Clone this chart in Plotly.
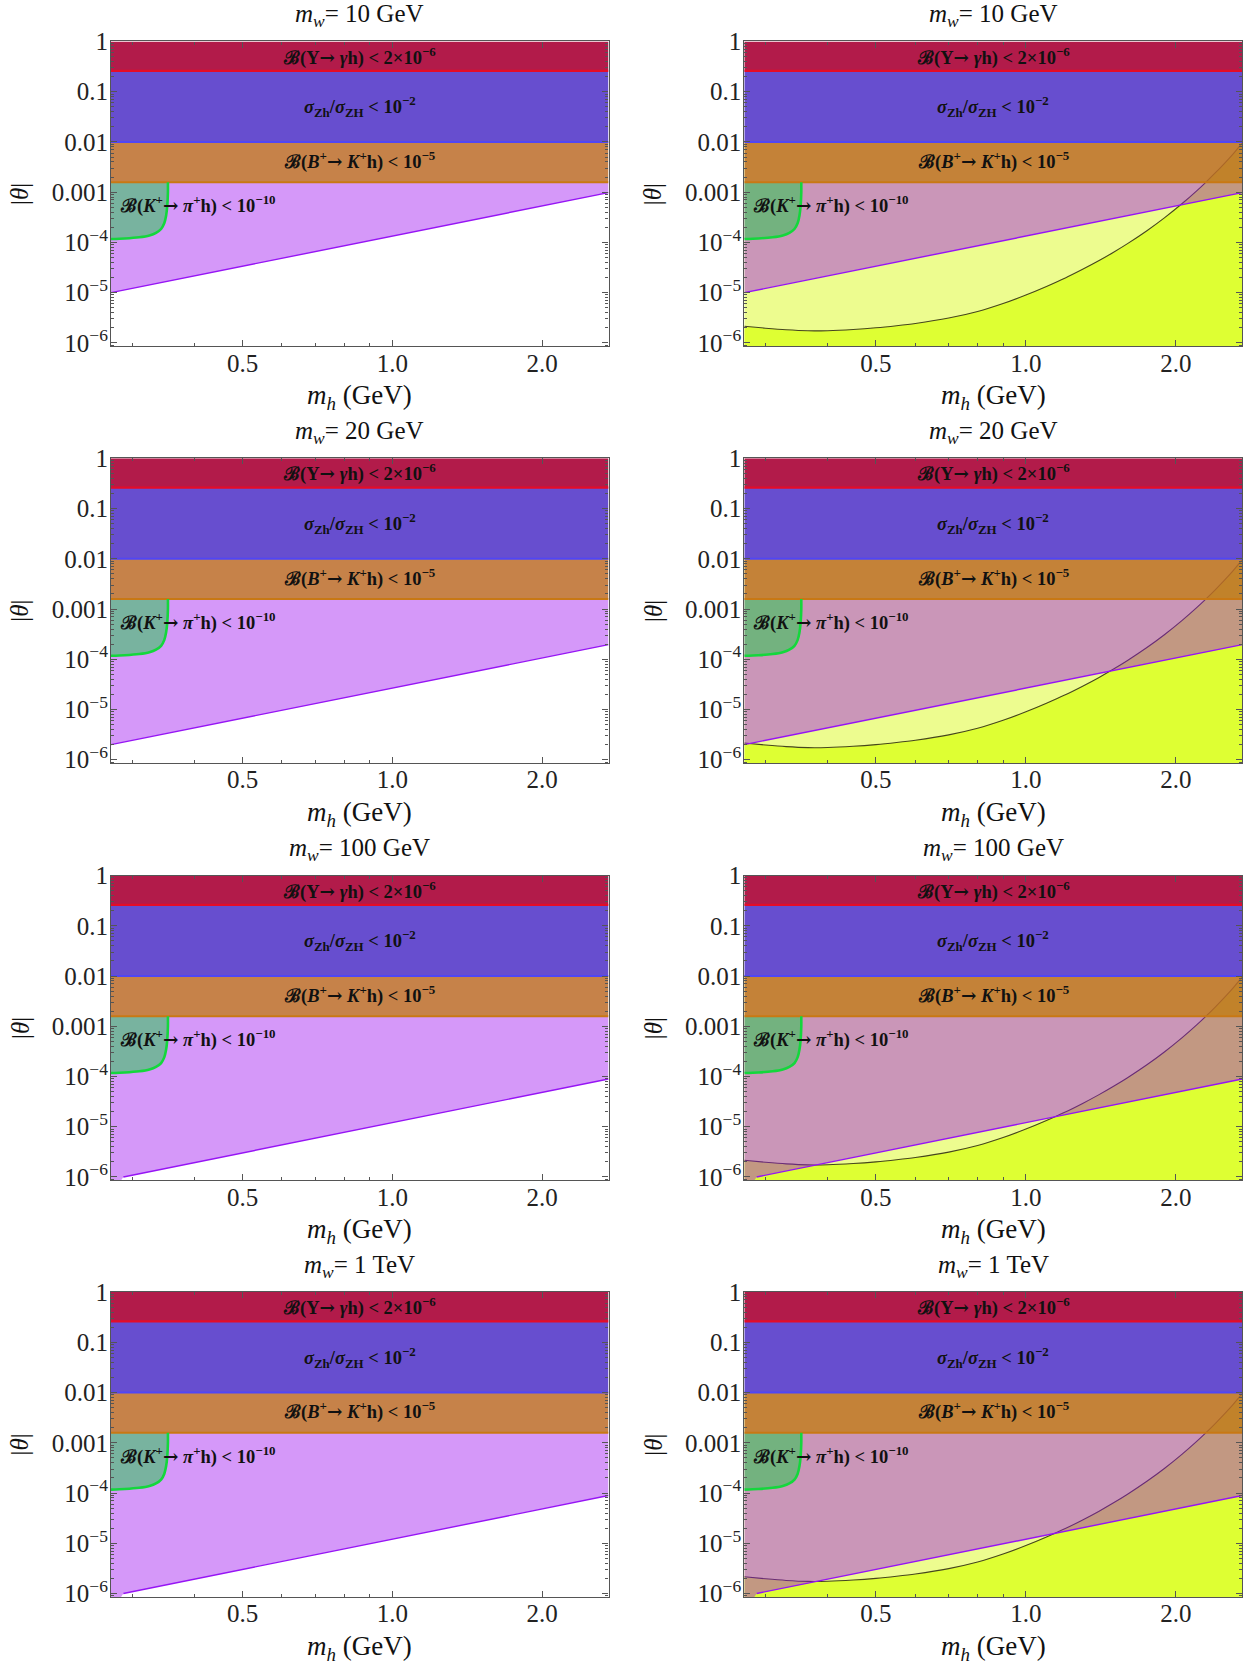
import math
import plotly.graph_objects as go

# ---------------- data ----------------
panel_titles = ["10 GeV", "20 GeV", "100 GeV", "1 TeV"]
m_range = [0.272, 2.72]           # m_h axis range (GeV)
theta_log_range = [-6.07, 0.0]    # log10 |theta| axis range

# constraint band edges (|theta|)
upsilon_low = 0.26
zh_low = 0.01
bk_low = 0.00158
theta_top = 1.0

# lower edge of the purple region (straight line in log-log), per m_w
line_m = [
    [0.272, 2.72],
    [0.272, 2.72],
    [0.288, 2.72],
    [0.288, 2.72],
]
line_theta = [
    [1.0e-5, 9.8e-4],
    [2.0e-6, 1.95e-4],
    [1.0e-6, 8.9e-5],
    [1.0e-6, 8.9e-5],
]

# K+ -> pi+ h boundary
kplus_m = [0.272, 0.29, 0.31, 0.325, 0.335, 0.343, 0.348, 0.351, 0.353, 0.354, 0.354]
kplus_theta = [1.17e-4, 1.2e-4, 1.27e-4, 1.38e-4, 1.55e-4, 1.85e-4, 2.4e-4, 3.4e-4, 5.5e-4, 1.0e-3, 1.58e-3]

# curve bounding the bright-yellow region (right column)
curve_m = [0.272, 0.30, 0.33, 0.365, 0.40, 0.45, 0.50, 0.55, 0.60, 0.70, 0.80, 0.90, 1.00,
           1.10, 1.20, 1.30, 1.40, 1.50, 1.60, 1.75, 1.90, 2.06, 2.20, 2.30, 2.40, 2.50,
           2.60, 2.72]
curve_theta = [2.15e-6, 1.96e-6, 1.82e-6, 1.74e-6, 1.75e-6, 1.85e-6, 2.0e-6, 2.2e-6, 2.44e-6,
               3.12e-6, 4.22e-6, 6.08e-6, 8.98e-6, 1.33e-5, 1.96e-5, 2.91e-5, 4.3e-5,
               6.38e-5, 9.45e-5, 1.71e-4, 3.11e-4, 5.94e-4, 1.05e-3, 1.59e-3, 2.41e-3,
               3.67e-3, 5.6e-3, 9.6e-3]

y_tickvals = [1e-6, 1e-5, 1e-4, 1e-3, 1e-2, 1e-1, 1]
y_ticktext = ["10<sup>\u22126</sup>", "10<sup>\u22125</sup>", "10<sup>\u22124</sup>",
              "0.001", "0.01", "0.1", "1"]
x_tickvals = [0.5, 1.0, 2.0]
x_ticktext = ["0.5", "1.0", "2.0"]
x_minor = [0.3, 0.4, 0.6, 0.7, 0.8, 0.9]
y_minor = [k * 10.0 ** e for e in range(-7, 0) for k in range(2, 10)]

ARROW = "<span style=\"font-family:'DejaVu Serif'\">\u2192</span>"
label_upsilon = "<b>\u212C(\u03A5" + ARROW + " <i>\u03B3</i>h) &lt; 2\u00D710<sup>\u22126</sup></b>"
label_zh = "<b><i>\u03C3</i><sub>Zh</sub>/<i>\u03C3</i><sub>ZH</sub> &lt; 10<sup>\u22122</sup></b>"
label_bk = "<b>\u212C(<i>B</i><sup>+</sup>" + ARROW + " <i>K</i><sup>+</sup>h) &lt; 10<sup>\u22125</sup></b>"
label_kpi = "<b>\u212C(<i>K</i><sup>+</sup>" + ARROW + " <i>\u03C0</i><sup>+</sup>h) &lt; 10<sup>\u221210</sup></b>"

# ---------------- colours ----------------
C_RED = "rgb(178,27,74)"
C_BLUE = "rgb(103,78,207)"
C_ORANGE = "rgba(188,108,41,0.85)"
C_PURPLE = "rgba(155,10,240,0.42)"
C_GREEN = "rgba(27,206,70,0.5)"
C_LY = "rgb(237,252,143)"
C_BY = "rgb(222,255,51)"

L_RED = "rgb(228,12,40)"
L_BLUE = "rgb(80,70,245)"
L_ORANGE = "rgb(200,120,20)"
L_PURPLE = "rgb(150,20,245)"
L_GREEN = "rgb(20,215,60)"
L_CURVE = "rgb(70,70,30)"

FONT = "Liberation Serif, Times New Roman, serif"

# ---------------- layout geometry ----------------
W, H = 1250, 1671
col_px = [(111.0, 608.5), (744.3, 1242.3)]
row_top_px = [40.7, 459.0, 877.7, 1295.7]
plot_h_px = 306.0


def py(t):
    # target pixel row -> paper fraction (with measured render correction)
    spec = -12.25 + 1.0104 * t
    return 1 - spec / H


fig = go.Figure()
annotations = []
lo_m, hi_m = m_range
lo_t = 10 ** theta_log_range[0] * 0.5


def poly(xs, ys, color, ax, ay):
    fig.add_trace(go.Scatter(x=xs, y=ys, mode="lines", fill="toself", fillcolor=color,
                             line=dict(width=0), hoverinfo="skip", showlegend=False,
                             xaxis=ax, yaxis=ay))


def line(xs, ys, color, width, ax, ay, shape="linear"):
    fig.add_trace(go.Scatter(x=xs, y=ys, mode="lines",
                             line=dict(color=color, width=width, shape=shape, smoothing=0.8),
                             hoverinfo="skip", showlegend=False, xaxis=ax, yaxis=ay))


n = 0
for r in range(4):
    for c in range(2):
        n += 1
        ax = "x" if n == 1 else f"x{n}"
        ay = "y" if n == 1 else f"y{n}"
        x0p, x1p = col_px[c]
        t_px = row_top_px[r]
        b_px = t_px + plot_h_px
        xdom = [x0p / W, x1p / W]
        ydom = [py(b_px), py(t_px)]

        common = dict(showline=True, linecolor="#555555", linewidth=1.2, mirror="allticks",
                      ticks="inside", tickcolor="#555555", ticklen=6, tickwidth=1,
                      showgrid=False, zeroline=False,
                      tickfont=dict(family=FONT, size=25, color="#222222"))
        fig.layout[("xaxis" if n == 1 else f"xaxis{n}")] = dict(
            type="log", range=[math.log10(lo_m), math.log10(hi_m)], domain=xdom,
            anchor=ay, tickvals=x_tickvals, ticktext=x_ticktext, ticklabelstandoff=-6,
            minor=dict(tickvals=x_minor, ticks="inside", ticklen=3, tickcolor="#555555"),
            **common)
        fig.layout[("yaxis" if n == 1 else f"yaxis{n}")] = dict(
            type="log", range=theta_log_range, domain=ydom, anchor=ax,
            tickvals=y_tickvals, ticktext=y_ticktext, ticklabelstandoff=-3,
            minor=dict(tickvals=y_minor, ticks="inside", ticklen=3, tickcolor="#555555"),
            **common)

        lm = line_m[r]
        lt = line_theta[r]
        # right column: yellow background regions
        if c == 1:
            poly([lo_m, hi_m, hi_m, lo_m], [lo_t, lo_t, zh_low, zh_low], C_LY, ax, ay)
            poly(curve_m + [hi_m, lo_m], curve_theta + [lo_t, lo_t], C_BY, ax, ay)
            line(curve_m, curve_theta, L_CURVE, 1.1, ax, ay, shape="spline")
        # purple region above the line
        px_ = list(lm) + [hi_m, lo_m]
        py_ = list(lt) + [bk_low, bk_low]
        if lm[0] > lo_m:
            px_ = [lo_m] + px_
            py_ = [lo_t] + py_
        poly(px_, py_, C_PURPLE, ax, ay)
        # bands
        poly([lo_m, hi_m, hi_m, lo_m], [bk_low, bk_low, zh_low, zh_low], C_ORANGE, ax, ay)
        poly([lo_m, hi_m, hi_m, lo_m], [zh_low, zh_low, upsilon_low, upsilon_low], C_BLUE, ax, ay)
        poly([lo_m, hi_m, hi_m, lo_m], [upsilon_low, upsilon_low, theta_top, theta_top], C_RED, ax, ay)
        # K+ region
        poly(kplus_m + [lo_m], kplus_theta + [bk_low], C_GREEN, ax, ay)
        # boundary lines
        line([lo_m, hi_m], [upsilon_low, upsilon_low], L_RED, 2.2, ax, ay)
        line([lo_m, hi_m], [zh_low, zh_low], L_BLUE, 2.0, ax, ay)
        line([lo_m, hi_m], [bk_low, bk_low], L_ORANGE, 2.0, ax, ay)
        line(lm, lt, L_PURPLE, 1.4, ax, ay)
        line(kplus_m, kplus_theta, L_GREEN, 2.6, ax, ay, shape="spline")

        xc = math.sqrt(lo_m * hi_m)
        for txt, yv in [(label_upsilon, math.log10(0.51)), (label_zh, math.log10(0.05)),
                        (label_bk, math.log10(0.0043))]:
            annotations.append(dict(x=math.log10(xc), y=yv, xref=ax, yref=ay,
                                    text=txt, showarrow=False, xanchor="center", yanchor="middle",
                                    font=dict(family=FONT, size=18.5, color="#111111")))
        annotations.append(dict(x=math.log10(0.281), y=math.log10(5.6e-4), xref=ax,
                                yref=ay, text=label_kpi, showarrow=False, xanchor="left",
                                yanchor="middle",
                                font=dict(family=FONT, size=18.5, color="#111111")))
        xmid = (x0p + x1p) / 2 / W
        # title
        annotations.append(dict(x=xmid, y=py(t_px - 26), xref="paper", yref="paper",
                                text=f"<i>m</i><sub><i>w</i></sub>= {panel_titles[r]}",
                                showarrow=False, xanchor="center", yanchor="middle",
                                font=dict(family=FONT, size=25, color="#111111")))
        # x title
        annotations.append(dict(x=xmid, y=py(b_px + 51), xref="paper", yref="paper",
                                text="<i>m</i><sub><i>h</i></sub> (GeV)",
                                showarrow=False, xanchor="center", yanchor="middle",
                                font=dict(family=FONT, size=27, color="#111111")))
        # y title
        annotations.append(dict(x=(x0p - 91) / W, y=py((t_px + b_px) / 2), xref="paper",
                                yref="paper", text="|<i>\u03B8</i>|", textangle=-90,
                                showarrow=False, xanchor="center", yanchor="middle",
                                font=dict(family=FONT, size=25, color="#111111")))

fig.update_layout(width=W, height=H, margin=dict(l=0, r=0, t=0, b=0),
                  plot_bgcolor="white", paper_bgcolor="white",
                  annotations=annotations, showlegend=False)

fig.write_html("out.html")
